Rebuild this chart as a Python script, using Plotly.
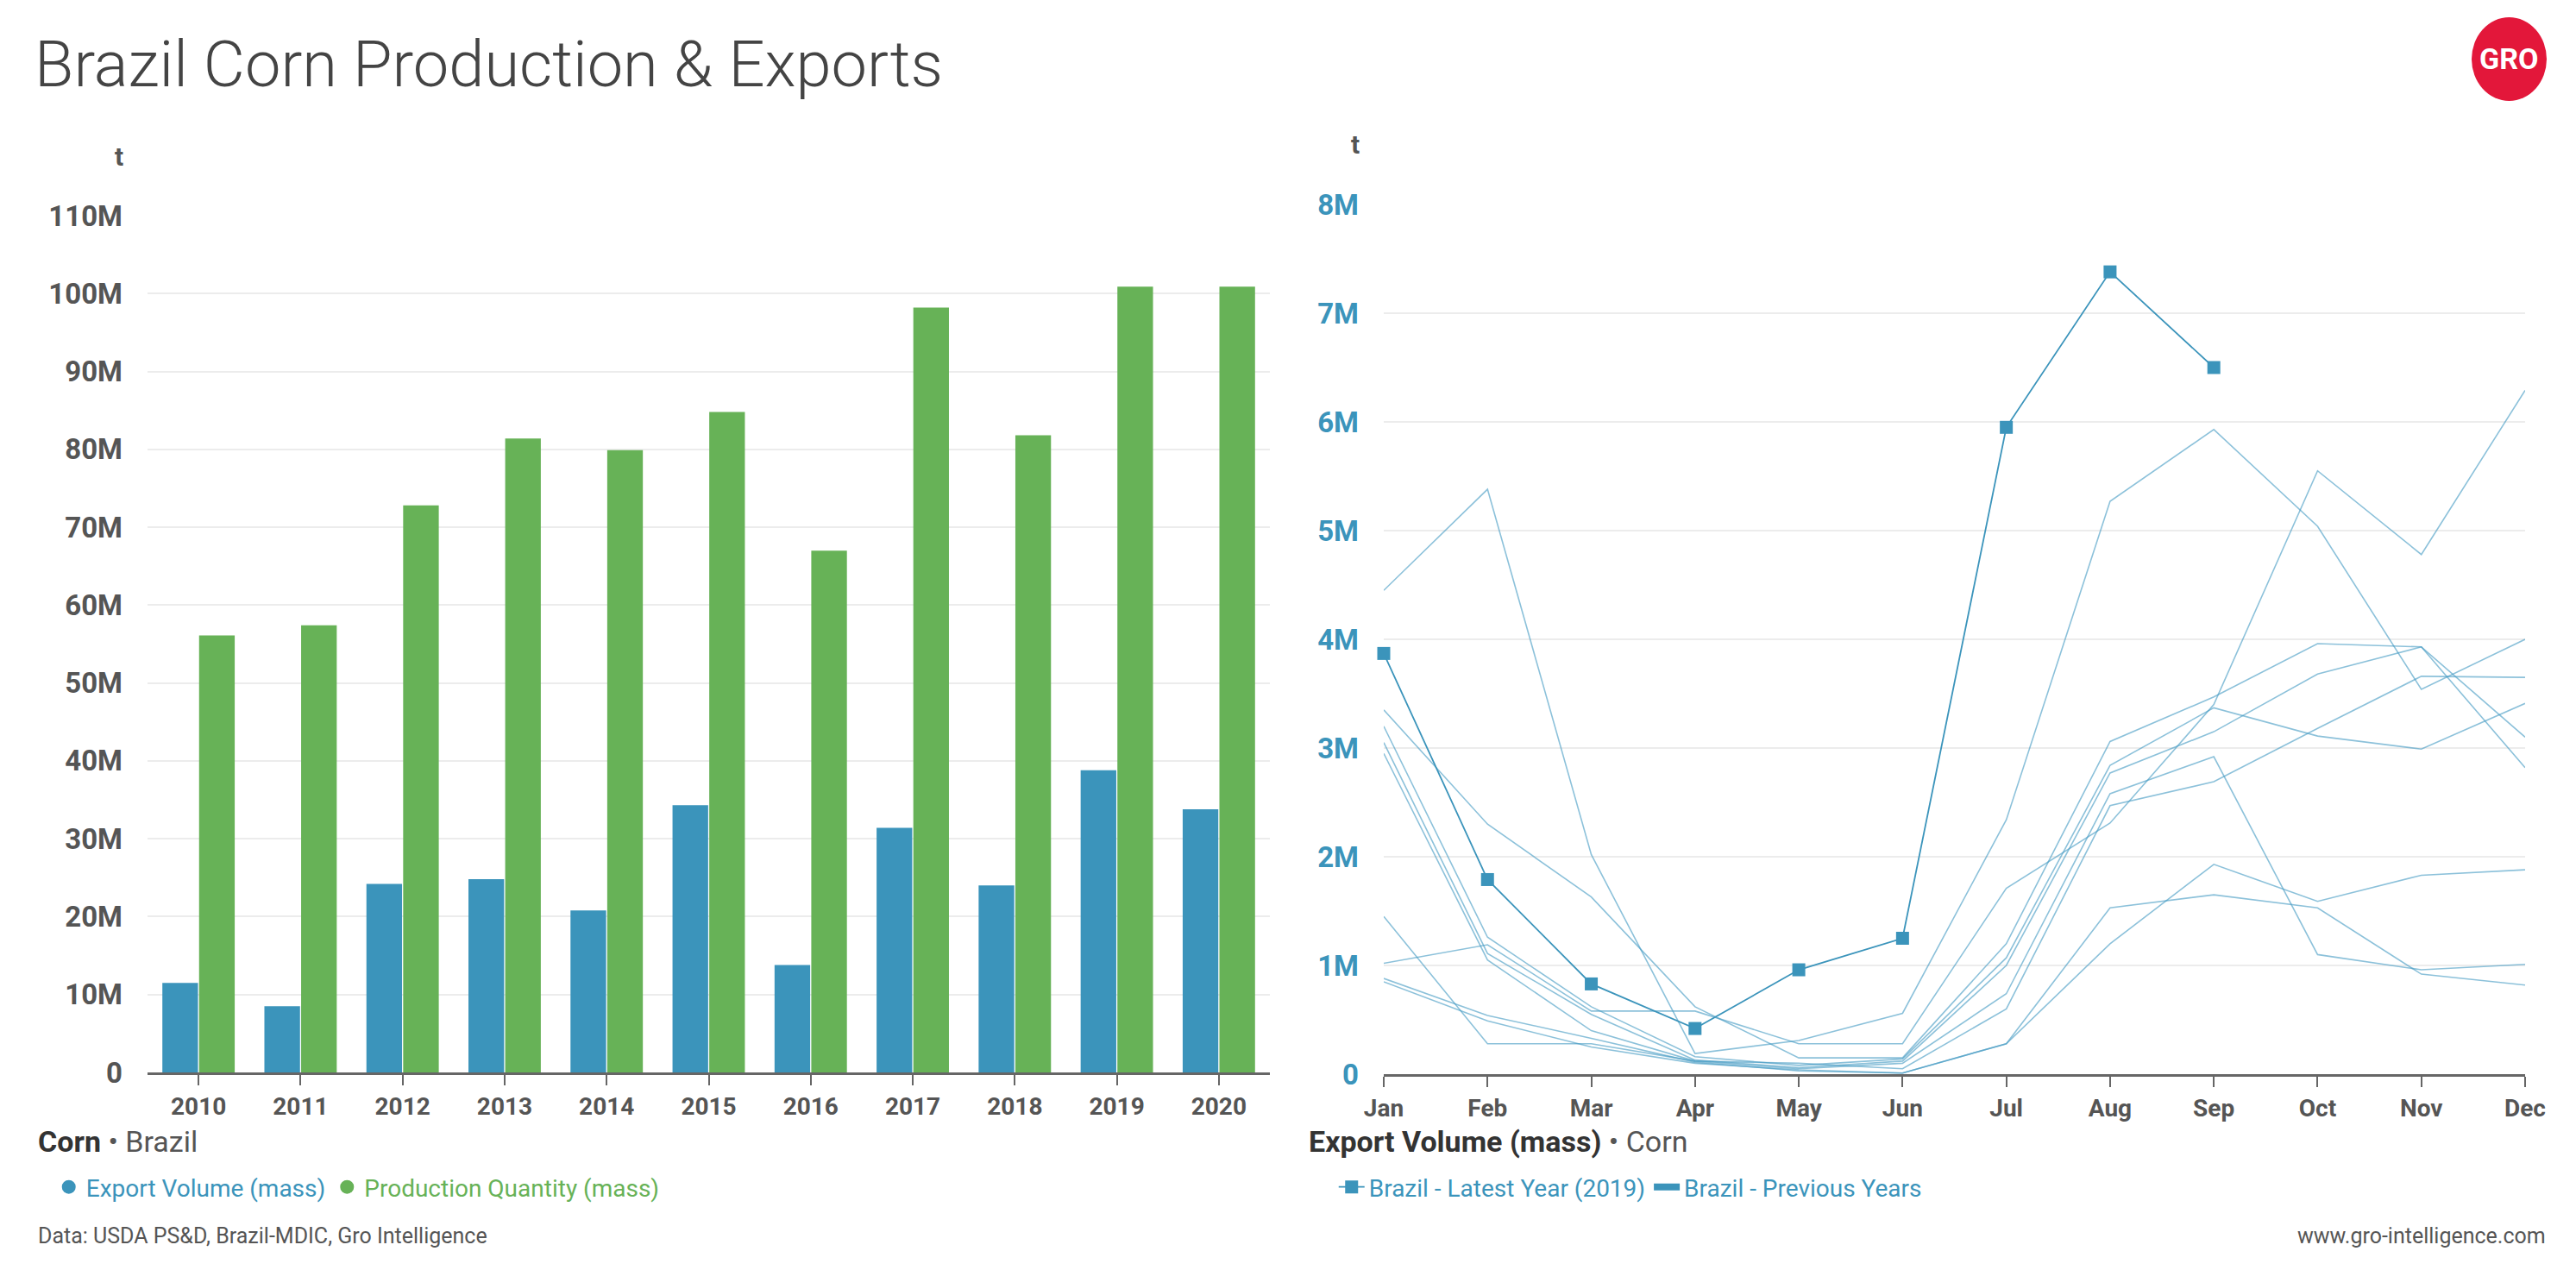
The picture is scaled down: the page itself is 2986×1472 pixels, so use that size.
import plotly.graph_objects as go

# ---------------- data ----------------
years = ['2010', '2011', '2012', '2013', '2014', '2015', '2016', '2017', '2018', '2019', '2020']
export_volume_mt = [11.5, 8.5, 24.2, 24.8, 20.8, 34.3, 13.8, 31.4, 24.0, 38.8, 33.8]
production_mt = [56.1, 57.4, 72.8, 81.4, 79.9, 84.8, 67.0, 98.2, 81.8, 100.9, 100.9]
left_tickvals = [0, 10, 20, 30, 40, 50, 60, 70, 80, 90, 100, 110]
left_ticktext = ['0', '10M', '20M', '30M', '40M', '50M', '60M', '70M', '80M', '90M', '100M', '110M']

months = ['Jan', 'Feb', 'Mar', 'Apr', 'May', 'Jun', 'Jul', 'Aug', 'Sep', 'Oct', 'Nov', 'Dec']
latest_2019_mt = [3.87, 1.79, 0.83, 0.42, 0.96, 1.25, 5.95, 7.38, 6.50, None, None, None]
prev_a = [4.45, 5.38, 2.02, 0.19, 0.31, 0.56, 2.34, 5.27, 5.93, 5.04, 3.54, 4.00]
prev_b = [1.02, 1.19, 0.58, 0.58, 0.28, 0.28, 1.71, 2.31, 3.40, 5.55, 4.78, 6.29]
prev_c = [3.35, 2.30, 1.63, 0.62, 0.15, 0.15, 1.20, 3.06, 3.47, 3.96, 3.93, 2.82]
prev_d = [3.20, 1.26, 0.62, 0.16, 0.08, 0.14, 1.07, 2.84, 3.37, 3.11, 2.99, 3.41]
prev_e = [3.05, 1.11, 0.55, 0.13, 0.06, 0.12, 1.00, 2.77, 3.15, 3.68, 3.93, 3.10]
prev_f = [2.95, 1.05, 0.40, 0.12, 0.05, 0.10, 0.74, 2.58, 2.92, 1.10, 0.96, 1.01]
prev_g = [1.45, 0.28, 0.28, 0.12, 0.10, 0.05, 0.60, 2.47, 2.69, 3.18, 3.66, 3.65]
prev_h = [0.88, 0.54, 0.33, 0.11, 0.03, 0.01, 0.28, 1.20, 1.93, 1.59, 1.83, 1.88]
prev_i = [0.85, 0.49, 0.25, 0.10, 0.04, 0.01, 0.28, 1.53, 1.65, 1.53, 0.92, 0.82]
previous_years = [prev_a, prev_b, prev_c, prev_d, prev_e, prev_f, prev_g, prev_h, prev_i]
right_tickvals = [0, 1, 2, 3, 4, 5, 6, 7, 8]
right_ticktext = ['0', '1M', '2M', '3M', '4M', '5M', '6M', '7M', '8M']

# ---------------- styles ----------------
BLUE = '#3b94bb'
GREEN = '#67b257'
LIGHT_BLUE = 'rgba(70,155,195,0.62)'
DARK = '#4a4a4a'
TICK = '#555555'
FONT = 'Roboto'
W, H = 2986, 1472

fig = go.Figure()

fig.add_trace(go.Bar(x=years, y=export_volume_mt, marker=dict(color=BLUE, line=dict(width=0)),
                     name='Export Volume (mass)', showlegend=False, xaxis='x', yaxis='y'))
fig.add_trace(go.Bar(x=years, y=production_mt, marker=dict(color=GREEN, line=dict(width=0)),
                     name='Production Quantity (mass)', showlegend=False, xaxis='x', yaxis='y'))

# legend entries with circle symbols for the left panel
fig.add_trace(go.Scatter(x=[None], y=[None], mode='markers', marker=dict(symbol='circle', size=20, color=BLUE),
                         name='<span style="color:%s">Export Volume (mass)</span>' % BLUE,
                         legend='legend', xaxis='x', yaxis='y'))
fig.add_trace(go.Scatter(x=[None], y=[None], mode='markers', marker=dict(symbol='circle', size=20, color=GREEN),
                         name='<span style="color:%s">Production Quantity (mass)</span>' % GREEN,
                         legend='legend', xaxis='x', yaxis='y'))

for series in previous_years:
    fig.add_trace(go.Scatter(x=months, y=series, mode='lines', line=dict(color=LIGHT_BLUE, width=1.6),
                             name='Brazil - Previous Years', showlegend=False, legend='legend2',
                             xaxis='x2', yaxis='y2', cliponaxis=False))

fig.add_trace(go.Scatter(x=months, y=latest_2019_mt, mode='lines+markers',
                         line=dict(color=BLUE, width=1.8),
                         marker=dict(symbol='square', size=15, color=BLUE),
                         name='<span style="color:%s">Brazil - Latest Year (2019)</span>' % BLUE,
                         legend='legend2', xaxis='x2', yaxis='y2', cliponaxis=False))
fig.add_trace(go.Scatter(x=[None], y=[None], mode='lines', line=dict(color=BLUE, width=8),
                         name='<span style="color:%s">Brazil - Previous Years</span>' % BLUE,
                         legend='legend2', xaxis='x2', yaxis='y2'))

axis_common = dict(ticks='outside', ticklen=12, tickwidth=2, tickcolor='#666', showline=True,
                   linecolor='#666', linewidth=3, showgrid=False, zeroline=False, automargin=False,
                   tickfont=dict(family=FONT, size=28, color=TICK, weight='bold'))

fig.update_layout(
    width=W, height=H,
    margin=dict(l=0, r=0, t=0, b=0, pad=0, autoexpand=False),
    paper_bgcolor='white', plot_bgcolor='white',
    font=dict(family=FONT, color=DARK),
    barmode='group', bargap=0.28, bargroupgap=0.03,
    xaxis=dict(domain=[171 / W, 1472 / W], anchor='y', type='category', **axis_common),
    yaxis=dict(domain=[1 - 1243 / H, 1 - 250 / H], anchor='x', range=[0, 110], tickvals=left_tickvals,
               ticktext=left_ticktext, showgrid=True, gridcolor='#ececec', gridwidth=2, automargin=False,
               zeroline=False, showline=False, ticks='', ticklabelstandoff=28,
               tickfont=dict(family=FONT, size=33, color=TICK, weight='bold')),
    xaxis2=dict(domain=[1604 / W, 2927 / W], anchor='y2', type='category', range=[0, 11], **axis_common),
    yaxis2=dict(domain=[1 - 1245 / H, 1 - 237 / H], anchor='x2', range=[0, 8], tickvals=right_tickvals,
                ticktext=right_ticktext, showgrid=True, gridcolor='#ececec', gridwidth=2, automargin=False,
                zeroline=False, showline=False, ticks='', ticklabelstandoff=28,
                tickfont=dict(family=FONT, size=33, color=BLUE, weight='bold')),
    legend=dict(orientation='h', x=0.02, y=1 - 1376 / H, xanchor='left', yanchor='middle',
                font=dict(family=FONT, size=28), itemwidth=30, bgcolor='rgba(0,0,0,0)'),
    legend2=dict(orientation='h', x=0.518, y=1 - 1376 / H, xanchor='left', yanchor='middle',
                 font=dict(family=FONT, size=28), itemwidth=30, bgcolor='rgba(0,0,0,0)'),
    showlegend=True,
)

annotations = [
    dict(text='Brazil Corn Production &amp; Exports', x=38 / W, y=1 - 74 / H, xref='paper', yref='paper',
         xanchor='left', yanchor='middle', showarrow=False,
         font=dict(family=FONT, size=74, color='#444', weight=300)),
    dict(text='t', x=138 / W, y=1 - 181 / H, xref='paper', yref='paper', showarrow=False,
         xanchor='center', yanchor='middle', font=dict(family=FONT, size=30, color='#555', weight='bold')),
    dict(text='t', x=1571 / W, y=1 - 167 / H, xref='paper', yref='paper', showarrow=False,
         xanchor='center', yanchor='middle', font=dict(family=FONT, size=30, color='#555', weight='bold')),
    dict(text='<b>Corn</b><span style="color:#555"> • Brazil</span>', x=42 / W, y=1 - 1323 / H,
         xref='paper', yref='paper', xanchor='left', yanchor='middle', showarrow=False,
         font=dict(family=FONT, size=34, color='#333')),
    dict(text='<b>Export Volume (mass)</b><span style="color:#555"> • Corn</span>', x=1515 / W,
         y=1 - 1323 / H, xref='paper', yref='paper', xanchor='left', yanchor='middle', showarrow=False,
         font=dict(family=FONT, size=34, color='#333')),
    dict(text='Data: USDA PS&amp;D, Brazil-MDIC, Gro Intelligence', x=42 / W, y=1 - 1432 / H,
         xref='paper', yref='paper', xanchor='left', yanchor='middle', showarrow=False,
         font=dict(family=FONT, size=25, color='#555')),
    dict(text='www.gro-intelligence.com', x=2953 / W, y=1 - 1432 / H,
         xref='paper', yref='paper', xanchor='right', yanchor='middle', showarrow=False,
         font=dict(family=FONT, size=25, color='#555')),
    dict(text='<b>GRO</b>', x=2908 / W, y=1 - 68 / H, xref='paper', yref='paper',
         xanchor='center', yanchor='middle', showarrow=False,
         font=dict(family='Liberation Sans Narrow, ' + FONT, size=34, color='white')),
]
fig.update_layout(annotations=annotations)

fig.add_shape(type='circle', xref='paper', yref='paper',
              x0=2865 / W, x1=2952 / W, y0=1 - 117 / H, y1=1 - 20 / H,
              fillcolor='#e3173a', line=dict(width=0), layer='below')

fig.write_html('out.html', config={'displayModeBar': False},
               post_script="document.body.style.margin='0';")
